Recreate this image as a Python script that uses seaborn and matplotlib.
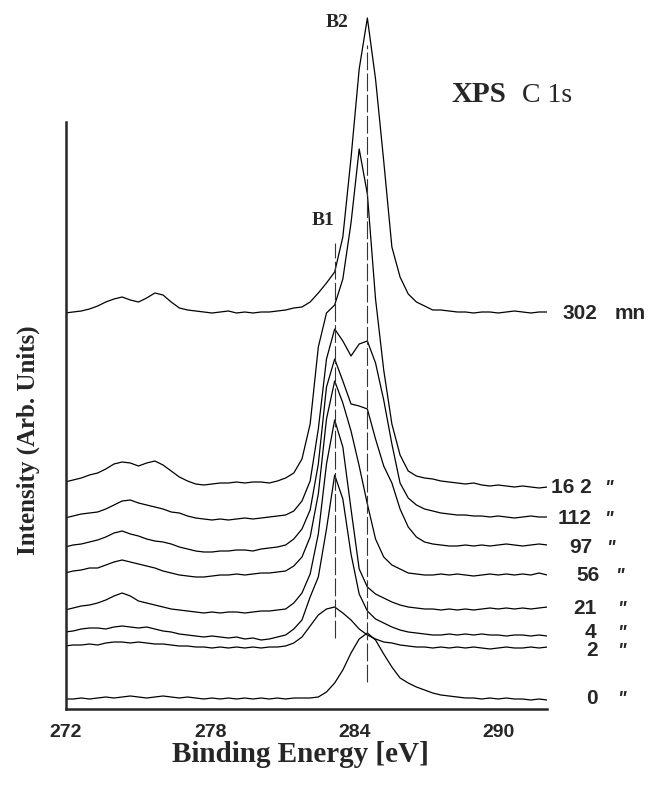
import numpy as np
import pandas as pd
import matplotlib
matplotlib.use("Agg")
import matplotlib.pyplot as plt
from matplotlib.ticker import MultipleLocator
import seaborn as sns

# ---------------- data ----------------
energy_start = 271.96          # eV, first sample
energy_step = 0.34             # eV between samples
times = ["302", "162", "112", "97", "56", "21", "4", "2", "0"]
time_labels = ["302", "16 2", "112", "97", "56", "21", "4", "2", "0"]

i302 = [396, 397, 398, 400, 403, 407, 410, 412, 409, 407, 411, 416, 414, 407, 401, 399, 398, 397, 396, 397,
        398, 396, 397, 396, 397, 397, 398, 399, 401, 402, 407, 416, 426, 437, 472, 551, 640, 691, 630, 548,
        462, 432, 415, 407, 403, 399, 399, 398, 397, 397, 396, 397, 397, 396, 397, 398, 397, 396, 397, 397]
i162 = [227, 229, 231, 234, 236, 240, 245, 247, 246, 243, 246, 248, 244, 238, 232, 228, 225, 224, 225, 226,
        226, 227, 226, 227, 227, 226, 228, 231, 236, 250, 285, 362, 396, 404, 430, 486, 560, 515, 410, 339,
        285, 254, 238, 233, 231, 230, 228, 227, 226, 225, 226, 224, 223, 224, 223, 222, 223, 222, 221, 222]
i112 = [191, 193, 195, 196, 197, 200, 204, 208, 209, 206, 204, 202, 200, 197, 196, 193, 191, 190, 189, 190,
        189, 190, 191, 190, 191, 192, 193, 194, 198, 208, 228, 280, 350, 380, 368, 353, 365, 368, 346, 309,
        265, 226, 211, 204, 200, 198, 196, 195, 194, 194, 193, 193, 192, 193, 192, 191, 192, 193, 192, 192]
i97 = [162, 164, 165, 167, 169, 172, 176, 178, 175, 173, 170, 168, 167, 165, 162, 160, 158, 157, 157, 158,
       158, 159, 159, 158, 160, 161, 162, 164, 170, 180, 199, 245, 322, 350, 328, 305, 303, 300, 270, 243,
       226, 200, 182, 172, 167, 165, 164, 163, 163, 164, 163, 164, 163, 164, 165, 164, 163, 164, 165, 164]
i56 = [136, 138, 139, 141, 141, 144, 147, 149, 147, 145, 143, 141, 138, 136, 134, 133, 132, 132, 133, 134,
       134, 135, 134, 135, 136, 136, 137, 138, 143, 152, 172, 215, 290, 328, 306, 278, 243, 205, 170, 152,
       144, 140, 136, 135, 134, 134, 135, 134, 135, 134, 133, 134, 135, 134, 135, 134, 135, 134, 136, 134]
i21 = [99, 101, 103, 104, 106, 109, 113, 116, 113, 108, 106, 104, 102, 100, 99, 98, 97, 96, 97, 96,
       97, 97, 96, 97, 98, 98, 99, 100, 106, 116, 135, 175, 245, 289, 262, 200, 140, 122, 115, 111,
       107, 104, 102, 101, 100, 100, 99, 100, 99, 100, 99, 100, 101, 100, 101, 100, 101, 100, 101, 102]
i4 = [77, 78, 80, 81, 81, 80, 82, 83, 82, 81, 82, 80, 78, 77, 75, 74, 73, 72, 73, 72,
      71, 72, 70, 71, 69, 70, 72, 74, 80, 89, 112, 132, 180, 234, 210, 155, 115, 98, 90, 86,
      82, 79, 77, 76, 75, 74, 74, 75, 74, 75, 74, 75, 74, 74, 73, 74, 74, 73, 74, 73]
i2 = [63, 64, 64, 65, 64, 66, 67, 67, 66, 67, 66, 65, 65, 64, 63, 63, 62, 62, 61, 62,
      61, 62, 61, 62, 61, 62, 62, 63, 66, 72, 83, 94, 100, 102, 96, 89, 80, 74, 70, 67,
      66, 64, 63, 62, 62, 61, 62, 61, 62, 61, 62, 61, 60, 61, 62, 61, 61, 62, 61, 62]
i0 = [10, 10, 11, 10, 11, 12, 11, 12, 13, 12, 11, 12, 13, 12, 11, 12, 11, 10, 11, 10,
      11, 10, 11, 10, 11, 10, 11, 10, 11, 11, 11, 12, 17, 26, 39, 56, 70, 76, 69, 55,
      42, 31, 26, 22, 19, 16, 14, 13, 12, 11, 11, 10, 11, 10, 11, 10, 10, 9, 10, 9]

spectra = [i302, i162, i112, i97, i56, i21, i4, i2, i0]

tick_values = [272, 278, 284, 290]
peak_B1 = 283.18
peak_B2 = 284.54

# ---------------- build table ----------------
energy = np.round(energy_start + energy_step * np.arange(len(i302)), 2)
frames = []
for t, vals in zip(times, spectra):
    frames.append(pd.DataFrame({"energy": energy, "intensity": vals, "time": t}))
df = pd.concat(frames, ignore_index=True)

# ---------------- style ----------------
sns.set_style("white")
plt.rcParams["font.family"] = ["Liberation Sans", "DejaVu Sans"]

W, H = 661, 791
fig = plt.figure(figsize=(W / 100, H / 100), dpi=100)

ax_left, ax_right, ax_bottom_px = 65.9, 546.7, 709.0
ax = fig.add_axes([ax_left / W, (H - ax_bottom_px) / H,
                   (ax_right - ax_left) / W, ax_bottom_px / H])

sns.lineplot(data=df, x="energy", y="intensity", units="time", estimator=None,
             sort=False, color="black", linewidth=0.9, legend=False, ax=ax)

ax.set_xlim(272, 292)
ax.set_ylim(0, 709)


def px2e(px):
    return 272 + (px - ax_left) * 20.0 / (ax_right - ax_left)


def py2h(py):
    return ax_bottom_px - py


# reference lines B1 / B2
ax.vlines(peak_B1, py2h(638), py2h(243), colors="#333333", linewidth=0.8,
          linestyles=(0, (16, 3)))
ax.vlines(peak_B2, py2h(682), py2h(45), colors="#333333", linewidth=0.8,
          linestyles=(0, (16, 3)))

serif = ["Liberation Serif", "DejaVu Serif"]
ax.text(px2e(337), py2h(27), "B2", family=serif, weight="bold", fontsize=14,
        ha="center", va="baseline")
ax.text(px2e(323), py2h(225), "B1", family=serif, weight="bold", fontsize=14,
        ha="center", va="baseline")

# title
ax.text(px2e(452), py2h(102), "XPS", family=serif, weight="bold", fontsize=21,
        ha="left", va="baseline", clip_on=False)
ax.text(px2e(522), py2h(102), "C 1s", family=serif, fontsize=20,
        ha="left", va="baseline", clip_on=False)

# right-hand time labels: (right edge px, centre py, ditto left px)
label_pos = [(597, 312, None), (592, 486, 604), (592, 517, 604), (592, 546, 606),
             (600, 574, 615), (597, 607, 617), (596, 631, 617), (598, 649, 617),
             (598, 697, 617)]
for txt, (rx, cy, dx) in zip(time_labels, label_pos):
    ax.text(px2e(rx), py2h(cy + 7), txt, weight="bold", fontsize=15,
            ha="right", va="baseline", clip_on=False)
    if dx is None:
        ax.text(px2e(615), py2h(cy + 7), "mn", weight="bold", fontsize=15,
                ha="left", va="baseline", clip_on=False)
    else:
        ax.text(px2e(dx), py2h(cy + 7), '"', weight="bold", style="italic",
                fontsize=13, ha="left", va="baseline", clip_on=False)

# spines and ticks
for s in ["top", "right"]:
    ax.spines[s].set_visible(False)
ax.spines["left"].set_linewidth(1.8)
ax.spines["bottom"].set_linewidth(1.8)
ax.spines["left"].set_bounds(0, py2h(122))
ax.set_yticks([])
ax.xaxis.set_major_locator(MultipleLocator(2))
ax.xaxis.set_minor_locator(MultipleLocator(1))
ax.tick_params(axis="x", which="major", direction="in", length=5, width=1.5,
               labelbottom=False)
ax.tick_params(axis="x", which="minor", direction="in", length=2.6, width=1.2)
ax.set_xlabel("")
ax.set_ylabel("")

sec = ax.secondary_xaxis("bottom")
sec.set_xticks(tick_values)
sec.set_xticklabels([str(v) for v in tick_values], fontsize=14, weight="bold")
sec.tick_params(length=0, pad=11)
sec.spines["bottom"].set_visible(False)

fig.text(300 / W, 1 - 762 / H, "Binding Energy [eV]", family=serif, weight="bold",
         fontsize=21, ha="center", va="baseline")
fig.text(28 / W, 1 - 440 / H, "Intensity (Arb. Units)", family=serif, weight="bold",
         fontsize=18, ha="center", va="center", rotation=90)

fig.savefig("out.png", dpi=100, facecolor="white")
